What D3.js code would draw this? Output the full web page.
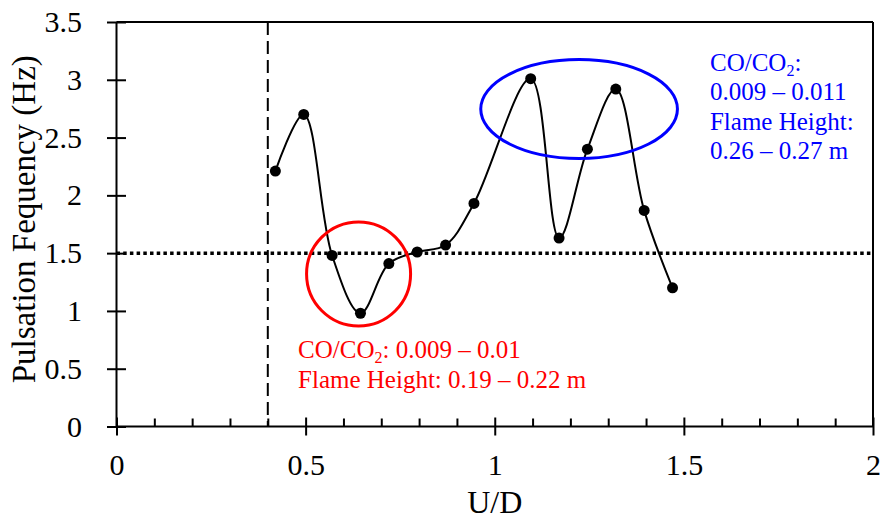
<!DOCTYPE html>
<html>
<head>
<meta charset="utf-8">
<script src="https://cdn.jsdelivr.net/npm/d3@7"></script>
<style>
    body { margin: 0; background: #fff; }
    svg { display: block; }
</style>
</head>
<body>
<svg id="chart"></svg>
<script>
// values
const ud = [0.42, 0.495, 0.57, 0.645, 0.72, 0.795, 0.87, 0.945, 1.095, 1.17, 1.245, 1.32, 1.395, 1.47];
const freq = [2.21, 2.70, 1.48, 0.98, 1.41, 1.51, 1.57, 1.93, 3.01, 1.63, 2.40, 2.92, 1.87, 1.20];

const xTicks = [0, 0.5, 1, 1.5, 2];
const yTicks = [0, 0.5, 1, 1.5, 2, 2.5, 3, 3.5];
const xMinorTicks = [0.1, 0.2, 0.3, 0.4, 0.6, 0.7, 0.8, 0.9, 1.1, 1.2, 1.3, 1.4, 1.6, 1.7, 1.8, 1.9];

const refUD = 0.4;      // dashed vertical
const refFreq = 1.5;    // dotted horizontal

// annotation ellipses: [cx, cy, rx, ry] in data units
const redEllipse = [0.640, 1.32, 0.1375, 0.45];
const blueEllipse = [1.223, 2.747, 0.260, 0.428];

const redLines = [["CO/CO", "2", ": 0.009 – 0.01"], ["Flame Height: 0.19 – 0.22 m"]];
const blueLines = [["CO/CO", "2", ":"], ["0.009 – 0.011"], ["Flame Height:"], ["0.26 – 0.27 m"]];
const redAnchor = [0.48, 0.595];
const blueAnchor = [1.569, 3.076];

const FONT = "'Liberation Serif', 'Times New Roman', serif";

const width = 883, height = 521;
const margin = { top: 22, right: 10, bottom: 94.5, left: 116.5 };
const w = width - margin.left - margin.right;
const h = height - margin.top - margin.bottom;

const svg = d3.select("#chart").attr("width", width).attr("height", height);
const g = svg.append("g").attr("transform", `translate(${margin.left},${margin.top})`);

const x = d3.scaleLinear().domain([0, 2]).range([0, w]);
const y = d3.scaleLinear().domain([0, 3.5]).range([h, 0]);

// reference lines
g.append("line")
    .attr("x1", x(refUD)).attr("x2", x(refUD))
    .attr("y1", y(3.5)).attr("y2", y(0))
    .attr("stroke", "#000").attr("stroke-width", 2)
    .attr("stroke-dasharray", "13 6");

g.append("line")
    .attr("x1", x(0)).attr("x2", x(2))
    .attr("y1", y(refFreq)).attr("y2", y(refFreq))
    .attr("stroke", "#000").attr("stroke-width", 3.5)
    .attr("stroke-dasharray", "3.5 3.2");

// minor x ticks (inside)
g.append("g")
    .attr("transform", `translate(0,${h})`)
    .call(d3.axisBottom(x).tickValues(xMinorTicks).tickSize(-8).tickFormat(""))
    .call(a => a.select(".domain").remove())
    .selectAll("line").attr("stroke-width", 2);

// major x ticks
const xAxis = g.append("g")
    .attr("transform", `translate(0,${h})`)
    .call(d3.axisBottom(x).tickValues(xTicks).tickSizeInner(9).tickSizeOuter(0).tickPadding(18).tickFormat(d3.format("")));
xAxis.select(".domain").remove();
xAxis.selectAll("line").attr("y1", -9).attr("stroke-width", 2);
xAxis.selectAll("text").attr("fill", "#000").style("font-family", FONT).style("font-size", "30px");

// y ticks
const yAxis = g.append("g")
    .call(d3.axisLeft(y).tickValues(yTicks).tickSizeInner(9.5).tickSizeOuter(0).tickPadding(25).tickFormat(d3.format("")));
yAxis.select(".domain").remove();
yAxis.selectAll("line").attr("x1", 9.5).attr("stroke-width", 2);
yAxis.selectAll("text").attr("fill", "#000").style("font-family", FONT).style("font-size", "30px");

// frame
const frame = g.append("g").attr("stroke", "#000").attr("stroke-width", 2).attr("fill", "none");
frame.append("line").attr("x1", x(0)).attr("x2", x(2)).attr("y1", y(0)).attr("y2", y(0));
frame.append("line").attr("x1", x(0)).attr("x2", x(0)).attr("y1", y(0)).attr("y2", y(3.5));
frame.append("line").attr("x1", x(0)).attr("x2", x(2)).attr("y1", y(3.5)).attr("y2", y(3.5));
frame.append("line").attr("x1", x(2)).attr("x2", x(2)).attr("y1", y(0)).attr("y2", y(3.5));

// data line
const data = ud.map((u, i) => ({ u, f: freq[i] }));
const line = d3.line()
    .x(d => x(d.u))
    .y(d => y(d.f))
    .curve(d3.curveCatmullRom.alpha(0.5));

g.append("path")
    .datum(data)
    .attr("d", line)
    .attr("fill", "none")
    .attr("stroke", "#000")
    .attr("stroke-width", 2);

g.selectAll(".point")
    .data(data)
    .enter().append("circle")
    .attr("class", "point")
    .attr("cx", d => x(d.u))
    .attr("cy", d => y(d.f))
    .attr("r", 5.5)
    .attr("fill", "#000");

// ellipses
[[redEllipse, "#ff0000"], [blueEllipse, "#0000ff"]].forEach(([e, c]) => {
    g.append("ellipse")
        .attr("cx", x(e[0])).attr("cy", y(e[1]))
        .attr("rx", x(e[2]) - x(0)).attr("ry", y(0) - y(e[3]))
        .attr("fill", "none")
        .attr("stroke", c)
        .attr("stroke-width", 3);
});

// annotations
function annotate(lines, anchor, color, lineGap) {
    const t = g.append("text")
        .attr("x", x(anchor[0]))
        .attr("y", y(anchor[1]))
        .attr("fill", color)
        .style("font-family", FONT)
        .style("font-size", "25px");
    lines.forEach((parts, i) => {
        t.append("tspan")
            .attr("x", x(anchor[0]))
            .attr("dy", i === 0 ? 0 : lineGap)
            .text(parts[0]);
        if (parts.length > 1) {
            t.append("tspan").style("font-size", "16px").attr("dy", 5).text(parts[1]);
            t.append("tspan").attr("dy", -5).text(parts[2]);
        }
    });
}
annotate(redLines, redAnchor, "#ff0000", 30);
annotate(blueLines, blueAnchor, "#0000ff", 29.3);

// axis titles
svg.append("text")
    .attr("x", margin.left + w / 2)
    .attr("y", 513)
    .attr("text-anchor", "middle")
    .style("font-family", FONT)
    .style("font-size", "32px")
    .text("U/D");

svg.append("text")
    .attr("transform", `translate(35,${margin.top + h / 2 - 5}) rotate(-90)`)
    .attr("text-anchor", "middle")
    .style("font-family", FONT)
    .style("font-size", "33px")
    .text("Pulsation Fequency (Hz)");
</script>
</body>
</html>
